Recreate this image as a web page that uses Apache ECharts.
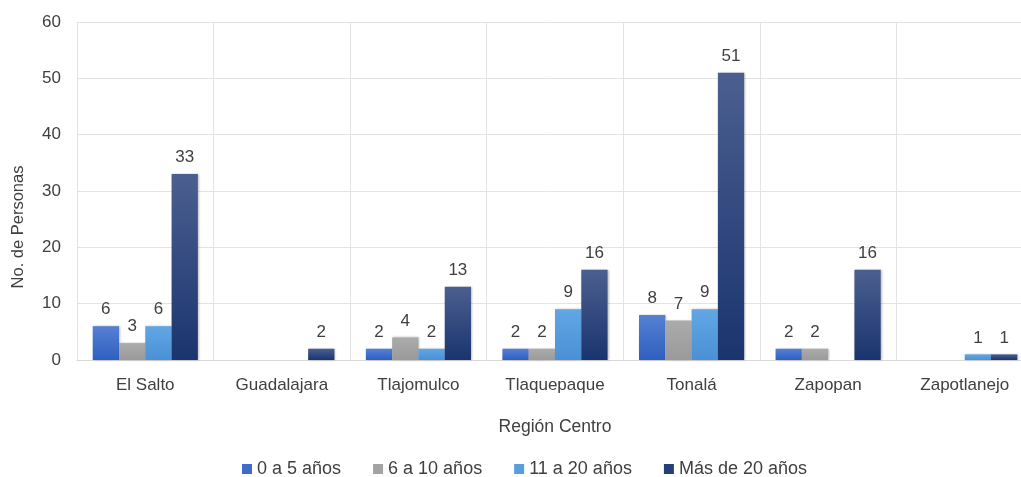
<!DOCTYPE html>
<html>
<head>
<meta charset="utf-8">
<script src="https://cdn.jsdelivr.net/npm/echarts@6/dist/echarts.min.js"></script>
<style>
  html, body { margin: 0; padding: 0; background: #fff; }
  #chart { width: 1021px; height: 477px; }
</style>
</head>
<body>
<div id="chart"></div>
<script>
const regions = ['El Salto', 'Guadalajara', 'Tlajomulco', 'Tlaquepaque', 'Tonalá', 'Zapopan', 'Zapotlanejo']
const seriesNames = ['0 a 5 años', '6 a 10 años', '11 a 20 años', 'Más de 20 años']
const age0to5 = [6, null, 2, 2, 8, 2, null]
const age6to10 = [3, null, 4, 2, 7, 2, null]
const age11to20 = [6, null, 2, 9, 9, null, 1]
const ageOver20 = [33, 2, 13, 16, 51, 16, 1]

const grad = (top, bottom) => new echarts.graphic.LinearGradient(0, 0, 0, 1, [
  { offset: 0, color: top },
  { offset: 1, color: bottom }
])

const palette = [
  grad('#5580d4', '#2f5fbf'),
  grad('#ababab', '#9a9a9a'),
  grad('#62a7e4', '#4a90d4'),
  grad('#4b5f8f', '#1b346f')
]
const legendColors = ['#3f6ccb', '#a3a3a3', '#5a9ede', '#243f7a']
const values = [age0to5, age6to10, age11to20, ageOver20]

const font = '"Liberation Sans", Arial, sans-serif'
const textColor = '#404040'

const chart = echarts.init(document.getElementById('chart'))
chart.setOption({
  animation: false,
  textStyle: { fontFamily: font },
  // plot area runs past the right edge of the picture, as in the original
  grid: { left: 77, top: 22, width: 956, height: 338, outerBoundsMode: 'none', containLabel: false },
  legend: {
    top: 455,
    left: 237,
    itemWidth: 10,
    itemHeight: 10,
    itemGap: 32,
    icon: 'rect',
    textStyle: { color: textColor, fontSize: 18, fontFamily: font },
    data: seriesNames.map((n, i) => ({ name: n, itemStyle: { color: legendColors[i] } }))
  },
  xAxis: {
    type: 'category',
    data: regions,
    name: 'Región Centro',
    nameLocation: 'middle',
    nameGap: 58,
    nameTextStyle: { color: textColor, fontSize: 17.5, fontFamily: font },
    axisLine: { lineStyle: { color: '#d9d9d9' } },
    axisTick: { show: false },
    axisLabel: { color: textColor, fontSize: 17, margin: 17 },
    splitLine: { show: true, lineStyle: { color: '#e3e3e3' } }
  },
  yAxis: {
    type: 'value',
    min: 0,
    max: 60,
    interval: 10,
    name: 'No. de Personas',
    nameLocation: 'middle',
    nameGap: 50,
    // the original title sits a little below the middle of the axis
    nameTextStyle: { color: textColor, fontSize: 16.5, fontFamily: font, padding: [0, 72, 0, 0] },
    axisLine: { show: false },
    axisTick: { show: false },
    axisLabel: { color: textColor, fontSize: 17, margin: 16 },
    splitLine: { lineStyle: { color: '#e3e3e3' } }
  },
  series: seriesNames.map((name, i) => ({
    name,
    type: 'bar',
    data: values[i],
    barGap: '0%',
    barCategoryGap: '23%',
    itemStyle: {
      color: palette[i],
      shadowColor: 'rgba(0,0,0,0.25)',
      shadowBlur: 2,
      shadowOffsetX: 1,
      shadowOffsetY: 0
    },
    label: {
      show: true,
      position: 'top',
      distance: 8,
      color: textColor,
      fontSize: 17,
      fontFamily: font
    }
  }))
})
</script>
</body>
</html>
